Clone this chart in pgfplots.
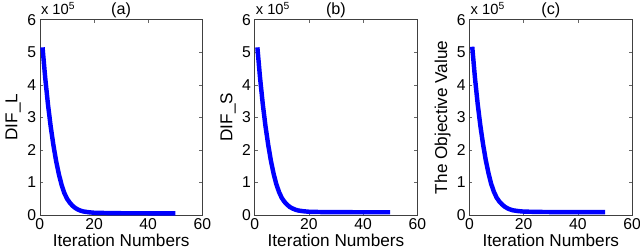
\documentclass[border=0pt]{standalone}
\usepackage{pgfplots}
\pgfplotsset{compat=1.18}
\usepackage{fontspec}
\setmainfont{Liberation Sans}
\begin{document}
\fontsize{17}{20}\selectfont
\pgfplotstableread{
x y
1 515000
2 420000
3 340000
4 272000
5 215000
6 166000
7 126000
8 93000
9 68000
10 50000
11 38000
12 28500
13 21500
14 16500
15 13000
16 10500
18 8000
20 6500
25 5500
30 5000
40 4800
50 4700
}\dataA
\pgfplotstableread{
x y
1 515000
2 420000
3 340000
4 272000
5 215000
6 166000
7 126000
8 94000
9 70000
10 52000
11 40000
12 31000
13 24000
14 19500
15 16000
16 13500
18 11000
20 9500
25 8500
30 8200
40 8000
50 7900
}\dataB
\pgfplotstableread{
x y
1 517000
2 422000
3 342000
4 274000
5 217000
6 168000
7 128000
8 95000
9 71000
10 53000
11 41000
12 32000
13 25000
14 20000
15 16500
16 14000
18 11500
20 10000
25 9000
30 8600
40 8400
50 8300
}\dataC
\pgfplotsset{
  mystyle/.style={
    width=165bp, height=198bp, scale only axis,
    xmin=0, xmax=60, ymin=0, ymax=600000,
    xtick={0,20,40,60}, xticklabels={0,20,40,60},
    ytick={0,100000,200000,300000,400000,500000,600000},
    yticklabels={0,1,2,3,4,5,6},
    scaled y ticks=false,
    tick align=inside, major tick length=3bp,
    axis line style={draw=black!75, line width=0.6bp},
    every tick/.style={draw=black!60, line width=0.5bp},
    ticklabel style={font=\fontsize{16}{19}\selectfont},
    label style={font=\fontsize{17.5}{20}\selectfont},
    xlabel={Iteration Numbers},
    xlabel style={yshift=7bp},
    xticklabel style={yshift=2bp},
    yticklabel style={xshift=2bp},
    ylabel style={yshift=-5bp},
    clip=false,
  },
  myplot/.style={draw={rgb,255:red,0;green,0;blue,255}, line width=4.5bp, line join=round, no marks},
}
\tikzset{
  tnode/.style={anchor=base, inner sep=0pt, yshift=5bp, font=\fontsize{16.5}{19}\selectfont},
  snode/.style={anchor=base west, inner sep=0pt, xshift=1bp, yshift=5bp, font=\fontsize{15}{18}\selectfont},
}
\begin{tikzpicture}[x=1bp,y=1bp]
\useasboundingbox (0,0) rectangle (640,253);
\begin{axis}[mystyle, at={(31bp,35bp)}, anchor=south west, ylabel={DIF\_L}]
\addplot[myplot] table {\dataA};
\node[tnode] at (rel axis cs:0.5,1) {(a)};
\node[snode] at (rel axis cs:0,1) {x 10\textsuperscript{5}};
\end{axis}
\begin{axis}[mystyle, at={(249bp,35bp)}, anchor=south west, ylabel={DIF\_S}]
\addplot[myplot] table {\dataB};
\node[tnode] at (rel axis cs:0.5,1) {(b)};
\node[snode] at (rel axis cs:0,1) {x 10\textsuperscript{5}};
\end{axis}
\begin{axis}[mystyle, at={(467bp,35bp)}, anchor=south west, ylabel={The Objective Value}]
\addplot[myplot] table {\dataC};
\node[tnode] at (rel axis cs:0.5,1) {(c)};
\node[snode] at (rel axis cs:0,1) {x 10\textsuperscript{5}};
\end{axis}
\end{tikzpicture}
\end{document}
